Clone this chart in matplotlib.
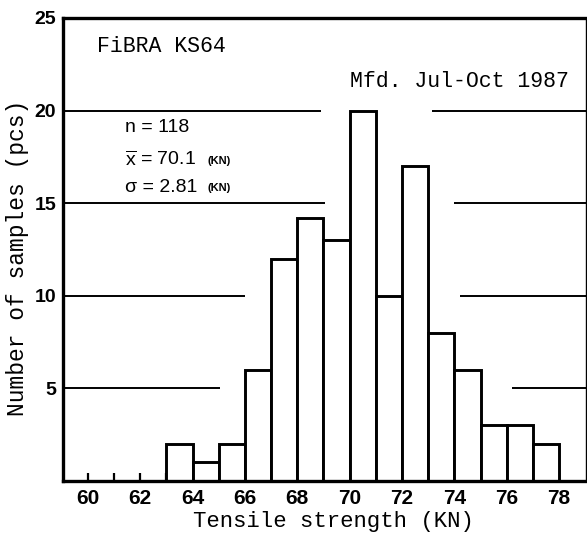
import numpy as np
import matplotlib
matplotlib.use("Agg")
import matplotlib.pyplot as plt

# histogram of tensile strength, bins 1 KN wide
bin_left = [63, 64, 65, 66, 67, 68, 69, 70, 71, 72, 73, 74, 75, 76, 77]
counts = [2, 1, 2, 6, 12, 14.2, 13, 20, 10, 17, 8, 6, 3, 3, 2]

x_ticks = list(range(60, 79))
x_labels = [str(t) if t % 2 == 0 else "" for t in x_ticks]
y_ticks = [5, 10, 15, 20, 25]

# broken horizontal rules: (level, gap start, gap end)
rules = [(20, 68.9, 73.15), (15, 69.05, 74.0), (10, 66.0, 74.2), (5, 65.05, 76.2)]

title1 = "FiBRA KS64"
title2 = "Mfd. Jul-Oct 1987"
xlabel = "Tensile strength (KN)"
ylabel = "Number of samples (pcs)"

W, H = 587, 533
mono = "Liberation Mono"
sans = "Liberation Sans"

fig = plt.figure(figsize=(W / 100, H / 100), dpi=100)
ax = fig.add_axes([63 / W, (H - 481) / H, (586 - 63) / W, (481 - 18) / H])

x0, x1 = 59.05, 79.03
ax.set_xlim(x0, x1)
ax.set_ylim(0, 25)

for lev, g0, g1 in rules:
    ax.hlines(lev, x0, g0, color="black", lw=1.4, zorder=1)
    ax.hlines(lev, g1, x1, color="black", lw=1.4, zorder=1)

ax.bar(bin_left, counts, width=1, align="edge", facecolor="white",
       edgecolor="black", lw=2.1, zorder=2)

for s in ["left", "top", "bottom"]:
    ax.spines[s].set_linewidth(2.4)
ax.spines["right"].set_linewidth(1.0)

ax.set_xticks(x_ticks)
ax.set_xticklabels(x_labels, fontfamily=sans, fontweight="bold", fontsize=15)
ax.tick_params(axis="x", direction="in", length=6, width=1.6, pad=6)

ax.set_yticks(y_ticks)
ax.set_yticklabels([str(t) for t in y_ticks], fontfamily=sans,
                   fontweight="bold", fontsize=14)
ax.tick_params(axis="y", length=0, pad=5)

def fx(px):
    return px / W

def fy(py):
    return 1 - py / H

fig.text(fx(333), fy(521), xlabel, fontfamily=mono, fontsize=16, ha="center", va="center")
fig.text(fx(18), fy(258), ylabel, fontfamily=mono, fontsize=16.5, ha="center", va="center",
         rotation=90)
fig.text(fx(97), fy(47), title1, fontfamily=mono, fontsize=15.5, ha="left", va="center")
fig.text(fx(350), fy(81), title2, fontfamily=mono, fontsize=15.5, ha="left", va="center")

fig.text(fx(125), fy(127), "n = 118", fontfamily=sans, fontsize=14, ha="left", va="center")
fig.text(fx(125), fy(160), r"$\overline{\mathregular{x}}$ = 70.1", fontfamily=sans,
         fontsize=14, ha="left", va="center")
fig.text(fx(125), fy(187), "\u03c3 = 2.81", fontfamily=sans, fontsize=14,
         ha="left", va="center")
fig.text(fx(207), fy(161), "(KN)", fontfamily=sans, fontweight="bold", fontsize=8,
         ha="left", va="center")
fig.text(fx(208), fy(188), "(KN)", fontfamily=sans, fontweight="bold", fontsize=8,
         ha="left", va="center")

fig.savefig("out.png", dpi=100)
